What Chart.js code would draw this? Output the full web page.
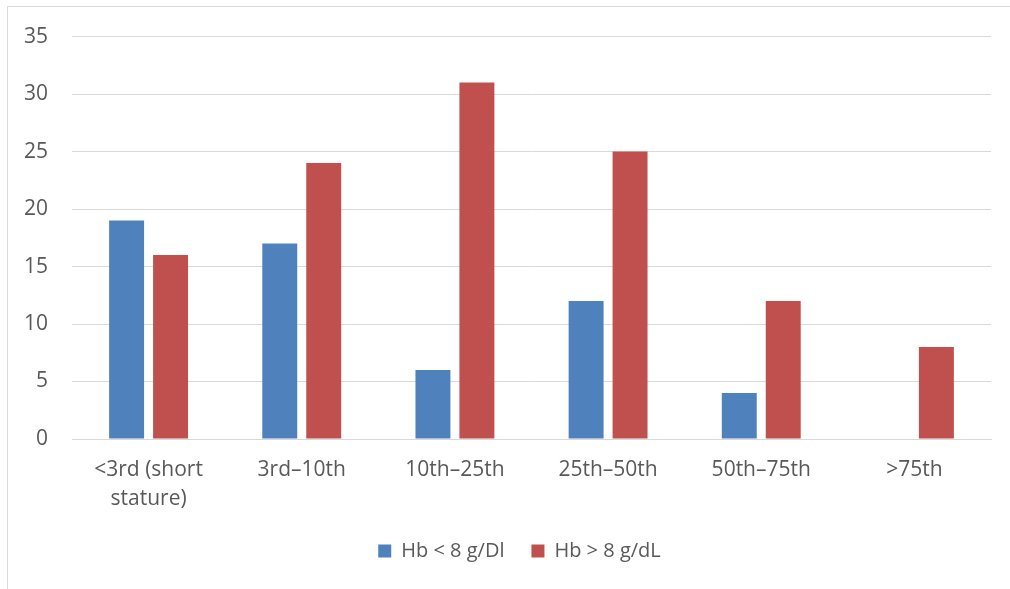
<!DOCTYPE html>
<html>
<head>
<meta charset="utf-8">
<script src="https://cdn.jsdelivr.net/npm/chart.js@4/dist/chart.umd.min.js"></script>
<style>
  html, body { margin: 0; padding: 0; background: #fff; overflow: hidden; }
  #wrap { position: relative; width: 1010px; height: 589px; }
  #frame { position: absolute; left: 7px; top: 6px; width: 1100px; height: 700px; border: 1px solid #d9d9d9; box-sizing: border-box; }
  #c { position: absolute; left: 0; top: 0; }
</style>
</head>
<body>
<div id="wrap">
  <div id="frame"></div>
  <canvas id="c" width="1010" height="589"></canvas>
</div>
<script>
// Height-for-age percentile groups
const categories = [["<3rd (short", "stature)"], "3rd–10th", "10th–25th", "25th–50th", "50th–75th", ">75th"];
const hbLow = [19, 17, 6, 12, 4, 0];     // Hb < 8 g/Dl
const hbHigh = [16, 24, 31, 25, 12, 8];  // Hb > 8 g/dL
const yTicks = [0, 5, 10, 15, 20, 25, 30, 35];

const FONT = "'Open Sans', 'Liberation Sans', sans-serif";
const TEXT = "#595959";
const GRID = "#d9d9d9";

// Centre the legend under the plot area rather than the whole canvas
const legendShift = {
  id: "legendShift",
  afterLayout(chart) {
    const lg = chart.legend;
    if (!lg) return;
    const dx = (chart.chartArea.left + chart.chartArea.right) / 2 - (lg.left + lg.right) / 2 - 12;
    lg.left += dx;
    lg.right += dx;
  }
};

new Chart(document.getElementById("c"), {
  type: "bar",
  data: {
    labels: categories,
    datasets: [
      { label: "Hb < 8 g/Dl", data: hbLow, backgroundColor: "#4f81bd", borderWidth: 0 },
      { label: "Hb > 8 g/dL", data: hbHigh, backgroundColor: "#c0504d", borderWidth: 0 }
    ]
  },
  plugins: [legendShift],
  options: {
    responsive: false,
    animation: false,
    events: [],
    datasets: { bar: { categoryPercentage: 0.574, barPercentage: 0.795 } },
    layout: { padding: { top: 29, right: 19, left: 0, bottom: 27 } },
    scales: {
      x: {
        grid: { display: false, drawTicks: false },
        border: { display: true, color: GRID, width: 1 },
        ticks: { color: TEXT, font: { family: FONT, size: 21, lineHeight: 1.4 }, padding: 16, maxRotation: 0, autoSkip: false },
        afterFit: s => { s.height = 75; }
      },
      y: {
        min: 0, max: 35,
        afterBuildTicks: s => { s.ticks = yTicks.map(v => ({ value: v })); },
        grid: { color: GRID, lineWidth: 1, drawTicks: false },
        border: { display: false },
        ticks: { color: TEXT, font: { family: FONT, size: 21 }, padding: 24 },
        afterFit: s => { s.width = 72; }
      }
    },
    plugins: {
      legend: {
        position: "bottom",
        maxHeight: 48,
        labels: { color: TEXT, font: { family: FONT, size: 20 }, boxWidth: 13, boxHeight: 13, padding: 27 }
      },
      tooltip: { enabled: false }
    }
  }
});
</script>
</body>
</html>
